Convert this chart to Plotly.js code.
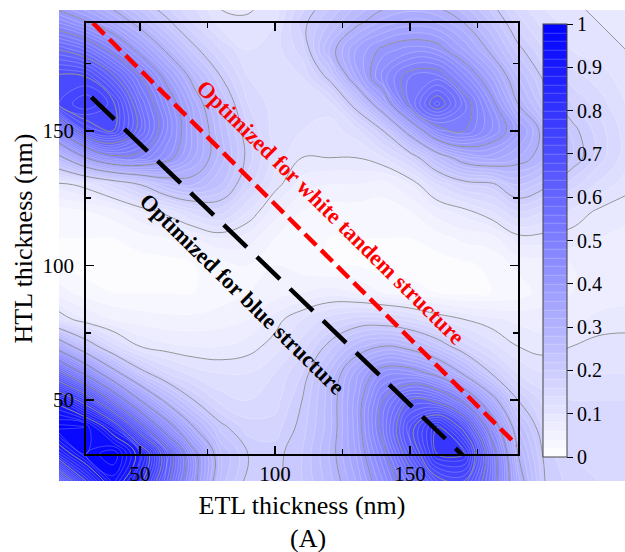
<!DOCTYPE html>
<html>
<head>
<meta charset="utf-8">
<script src="https://cdn.plot.ly/plotly-3.0.1.min.js"></script>
<style>
html,body{margin:0;padding:0;background:#fff;}
#chart{width:625px;height:552px;}
</style>
</head>
<body>
<div id="chart"></div>
<script>
// ETL thickness (nm) grid, columns
const etlThickness = [20,30,40,50,60,70,80,90,100,110,120,130,140,150,160,170,180,190,200,210,220,230];
// HTL thickness (nm) grid, rows
const htlThickness = [20,30,40,50,60,70,80,90,100,110,120,130,140,150,160,170,180,190,200];
// normalized intensity, one row per HTL value
const intensity = [
  [0.60,0.80,0.95,0.82,0.62,0.42,0.25,0.19,0.19,0.22,0.27,0.34,0.44,0.56,0.68,0.70,0.55,0.33,0.20,0.17,0.16,0.16],
  [0.85,0.96,1.00,0.88,0.65,0.42,0.26,0.20,0.19,0.22,0.28,0.36,0.48,0.64,0.80,0.80,0.55,0.30,0.19,0.16,0.16,0.16],
  [0.99,0.98,0.86,0.64,0.44,0.30,0.21,0.17,0.17,0.21,0.27,0.37,0.52,0.68,0.80,0.68,0.46,0.26,0.17,0.15,0.15,0.15],
  [0.88,0.76,0.58,0.40,0.28,0.20,0.15,0.14,0.15,0.20,0.27,0.37,0.50,0.60,0.58,0.48,0.33,0.20,0.15,0.14,0.14,0.14],
  [0.62,0.48,0.33,0.22,0.16,0.13,0.12,0.12,0.14,0.18,0.26,0.35,0.43,0.43,0.38,0.29,0.20,0.14,0.12,0.12,0.12,0.12],
  [0.36,0.24,0.15,0.10,0.085,0.08,0.08,0.09,0.11,0.15,0.21,0.27,0.30,0.28,0.23,0.17,0.13,0.10,0.09,0.10,0.11,0.11],
  [0.12,0.08,0.06,0.05,0.045,0.045,0.05,0.06,0.09,0.12,0.15,0.17,0.17,0.15,0.12,0.10,0.085,0.075,0.07,0.075,0.085,0.09],
  [0.05,0.03,0.02,0.02,0.02,0.02,0.03,0.04,0.05,0.06,0.07,0.06,0.04,0.03,0.02,0.015,0.02,0.03,0.05,0.06,0.07,0.07],
  [0.02,0.01,0.01,0.01,0.01,0.02,0.03,0.04,0.04,0.03,0.02,0.02,0.01,0.01,0.01,0.015,0.025,0.045,0.05,0.06,0.07,0.07],
  [0.02,0.02,0.02,0.03,0.04,0.06,0.08,0.07,0.04,0.03,0.02,0.02,0.02,0.02,0.03,0.045,0.05,0.09,0.09,0.09,0.08,0.075],
  [0.03,0.04,0.05,0.08,0.11,0.15,0.17,0.12,0.07,0.04,0.03,0.03,0.03,0.04,0.07,0.09,0.12,0.16,0.14,0.115,0.095,0.085],
  [0.09,0.11,0.15,0.20,0.26,0.28,0.24,0.17,0.11,0.07,0.06,0.06,0.05,0.08,0.14,0.18,0.19,0.24,0.21,0.17,0.135,0.11],
  [0.28,0.40,0.48,0.48,0.42,0.34,0.27,0.19,0.13,0.10,0.10,0.10,0.12,0.17,0.26,0.33,0.35,0.32,0.28,0.22,0.17,0.13],
  [0.50,0.66,0.70,0.58,0.46,0.35,0.26,0.18,0.13,0.12,0.11,0.13,0.20,0.33,0.47,0.50,0.44,0.37,0.28,0.21,0.17,0.13],
  [0.72,0.76,0.71,0.56,0.44,0.33,0.24,0.16,0.13,0.13,0.13,0.22,0.35,0.52,0.63,0.53,0.42,0.30,0.22,0.18,0.15,0.12],
  [0.71,0.70,0.61,0.50,0.38,0.28,0.20,0.14,0.13,0.14,0.21,0.34,0.45,0.52,0.53,0.45,0.36,0.26,0.19,0.15,0.13,0.11],
  [0.60,0.56,0.48,0.38,0.29,0.21,0.16,0.12,0.13,0.17,0.28,0.36,0.41,0.43,0.42,0.36,0.29,0.21,0.16,0.12,0.11,0.10],
  [0.46,0.41,0.35,0.28,0.21,0.16,0.11,0.105,0.12,0.19,0.24,0.29,0.33,0.35,0.34,0.30,0.24,0.17,0.13,0.11,0.10,0.10],
  [0.33,0.30,0.25,0.20,0.16,0.13,0.09,0.09,0.11,0.16,0.20,0.24,0.27,0.28,0.27,0.24,0.19,0.14,0.11,0.10,0.10,0.10]
];
// optimum lines
const blueLineEtl = [32, 170];
const blueLineHtl = [162.5, 29];
const whiteLineEtl = [32.6, 189.6];
const whiteLineHtl = [190, 33.3];
// tick values / labels
const axisTickVals = [50, 100, 150];
const axisTickText = ['50', '100', '150'];
const minorTickVals = [75, 125, 175];
const cbTickVals = [0,0.1,0.2,0.3,0.4,0.5,0.6,0.7,0.8,0.9,1];
const cbTickText = ['0','0.1','0.2','0.3','0.4','0.5','0.6','0.7','0.8','0.9','1'];

const FONT = 'Liberation Serif, Times New Roman, serif';
const W = 625, H = 552;
const px = (v) => v / W;
const py = (v) => 1 - v / H;

const scale = [[0, '#ffffff'], [1, '#0000ff']];

const fillTrace = {
  type: 'contour', x: etlThickness, y: htlThickness, z: intensity,
  xaxis: 'x', yaxis: 'y',
  zmin: 0, zmax: 1, colorscale: scale,
  contours: {start: 0, end: 1, size: 0.02, coloring: 'fill', showlines: true},
  line: {color: 'rgba(255,255,255,0.45)', width: 0.5, smoothing: 1.2},
  colorbar: {
    x: px(543), xanchor: 'left', y: py(24), yanchor: 'top',
    thickness: 24, thicknessmode: 'pixels', len: 433, lenmode: 'pixels',
    outlinecolor: '#444', outlinewidth: 1, xpad: 0, ypad: 0,
    tickmode: 'array', tickvals: cbTickVals, ticktext: cbTickText,
    ticks: 'outside', ticklen: 6, tickwidth: 1, tickcolor: '#000',
    tickfont: {family: FONT, size: 20, color: '#000'}
  },
  hoverinfo: 'skip'
};
const lineTrace = {
  type: 'contour', x: etlThickness, y: htlThickness, z: intensity,
  xaxis: 'x', yaxis: 'y', showscale: false,
  contours: {start: 0.1, end: 1.0, size: 0.1, coloring: 'none', showlines: true},
  line: {color: '#8a8a8a', width: 0.9, smoothing: 1.2},
  hoverinfo: 'skip'
};
const whiteTrace = {
  type: 'scatter', mode: 'lines', x: whiteLineEtl, y: whiteLineHtl,
  xaxis: 'x2', yaxis: 'y2',
  line: {color: '#ff0000', width: 4.5, dash: '16px,7px'}, showlegend: false
};
const blueTrace = {
  type: 'scatter', mode: 'lines', x: blueLineEtl, y: blueLineHtl,
  xaxis: 'x2', yaxis: 'y2',
  line: {color: '#000000', width: 4.5, dash: '32px,14px'}, showlegend: false
};

const visAxis = {
  showline: true, linecolor: '#000', linewidth: 1.8, mirror: 'ticks',
  ticks: 'inside', ticklen: 8, tickwidth: 1.8, tickcolor: '#000',
  tickmode: 'array', tickvals: axisTickVals, ticktext: axisTickText,
  minor: {ticks: 'inside', tickmode: 'array', tickvals: minorTickVals, ticklen: 5, tickwidth: 1.5, tickcolor: '#000'},
  showgrid: false, zeroline: false, range: [30, 190],
  tickfont: {family: FONT, size: 21, color: '#000'},
  fixedrange: true
};

const layout = {
  width: W, height: H,
  margin: {l: 0, r: 0, t: 0, b: 0},
  paper_bgcolor: '#ffffff', plot_bgcolor: 'rgba(0,0,0,0)',
  showlegend: false,
  xaxis: {visible: false, domain: [px(59), 1], range: [20, 229.63], showgrid: false, zeroline: false, fixedrange: true},
  yaxis: {visible: false, domain: [py(481), py(10)], range: [20, 194.83], showgrid: false, zeroline: false, fixedrange: true},
  xaxis2: Object.assign({}, visAxis, {
    domain: [px(86), px(518)], anchor: 'y2', ticklabelstandoff: 0,
    title: {text: 'ETL thickness (nm)', font: {family: FONT, size: 26, color: '#000'}, standoff: 11}
  }),
  yaxis2: Object.assign({}, visAxis, {
    domain: [py(454), py(23)], anchor: 'x2', ticklabelstandoff: 6,
    title: {text: 'HTL thickness (nm)', font: {family: FONT, size: 26, color: '#000'}, standoff: 2}
  }),
  annotations: [
    {xref: 'x2', yref: 'y2', x: 120.7, y: 119.7, text: 'Optimized for white tandem structure',
     showarrow: false, textangle: 44.6, xanchor: 'center', yanchor: 'middle',
     font: {family: FONT, size: 22.5, color: '#ff0000', weight: 'bold'}},
    {xref: 'x2', yref: 'y2', x: 87.6, y: 89.4, text: 'Optimized for blue structure',
     showarrow: false, textangle: 44.4, xanchor: 'center', yanchor: 'middle',
     font: {family: FONT, size: 22.5, color: '#000000', weight: 'bold'}},
    {xref: 'paper', yref: 'paper', x: px(308), y: py(538), text: '(A)',
     showarrow: false, xanchor: 'center', yanchor: 'middle',
     font: {family: FONT, size: 26, color: '#000'}}
  ]
};

Plotly.newPlot('chart', [fillTrace, lineTrace, whiteTrace, blueTrace], layout, {staticPlot: true, displayModeBar: false});
</script>
</body>
</html>
